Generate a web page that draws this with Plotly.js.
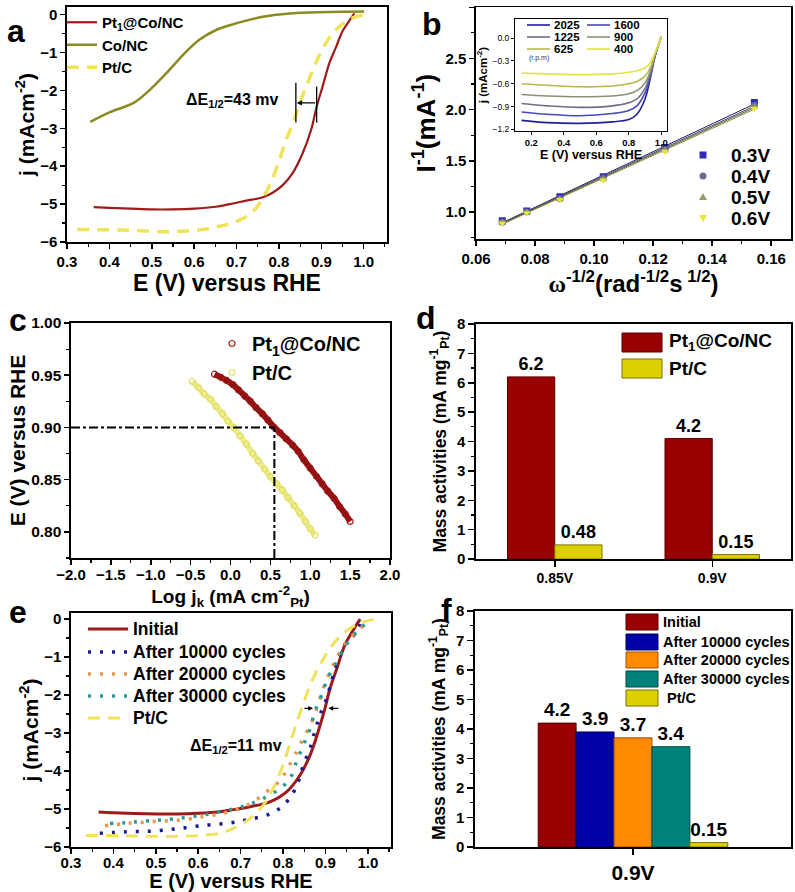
<!DOCTYPE html>
<html><head><meta charset="utf-8">
<script src="https://cdn.plot.ly/plotly-3.0.1.min.js"></script>
<style>html,body{margin:0;padding:0;background:#fff}#chart{width:795px;height:892px}</style>
</head><body><div id="chart"></div>
<script>
// ---------- Panel a : LSV ----------
const aPtNCx = [0.363,0.40,0.45,0.50,0.55,0.60,0.65,0.684,0.723,0.762,0.785,0.809,0.832,0.856,0.876,0.889,0.903,0.919,0.935,0.950,0.965,0.978];
const aPtNCy = [-5.08,-5.10,-5.12,-5.14,-5.14,-5.12,-5.07,-5.00,-4.91,-4.82,-4.70,-4.50,-4.19,-3.66,-3.04,-2.43,-1.90,-1.28,-0.85,-0.44,-0.18,0.03];
const aCoNCx = [0.355,0.40,0.457,0.496,0.535,0.574,0.613,0.653,0.684,0.723,0.762,0.80,0.840,0.919,1.001];
const aCoNCy = [-2.83,-2.58,-2.33,-1.98,-1.54,-1.06,-0.66,-0.40,-0.28,-0.16,-0.06,0.0,0.04,0.07,0.08];
const aPtCx = [0.324,0.40,0.457,0.535,0.613,0.653,0.684,0.715,0.746,0.766,0.782,0.801,0.817,0.836,0.852,0.872,0.892,0.911,0.935,0.962,0.99,1.013];
const aPtCy = [-5.67,-5.68,-5.69,-5.73,-5.68,-5.60,-5.52,-5.38,-5.11,-4.76,-4.41,-3.84,-3.31,-2.78,-2.25,-1.68,-1.15,-0.75,-0.40,-0.15,-0.03,0.0];

// ---------- Panel b : K-L plots ----------
const bOmega = [0.0689,0.0772,0.0884,0.1031,0.1240,0.1543];
const bPotentials = ['0.3V','0.4V','0.5V','0.6V'];
const b03V = [0.915,1.01,1.15,1.345,1.63,2.07];
const b04V = [0.90,1.00,1.13,1.33,1.61,2.04];
const b05V = [0.895,0.995,1.125,1.32,1.60,2.025];
const b06V = [0.89,0.99,1.12,1.31,1.59,2.01];
const bFitX = [0.0689,0.1543];
const bFit03 = [0.895,2.055];
const bFit04 = [0.89,2.035];
const bFit05 = [0.885,2.02];
const bFit06 = [0.88,2.005];
// inset: LSV at different rotation rates
const insetE = [0.14,0.3,0.5,0.7,0.8,0.85,0.9,0.93,0.96,1.0];
const rpmLabels = ['2025','1600','1225','900','625','400'];
const insetJ = {
  '2025':[-1.08,-1.11,-1.12,-1.10,-1.07,-1.00,-0.80,-0.55,-0.25,0.02],
  '1600':[-0.97,-1.00,-1.02,-0.99,-0.95,-0.89,-0.72,-0.52,-0.25,0.02],
  '1225':[-0.86,-0.89,-0.91,-0.89,-0.85,-0.80,-0.66,-0.49,-0.24,0.02],
  '900':[-0.74,-0.76,-0.77,-0.76,-0.73,-0.69,-0.59,-0.45,-0.23,0.02],
  '625':[-0.60,-0.62,-0.64,-0.63,-0.60,-0.57,-0.50,-0.40,-0.22,0.02],
  '400':[-0.46,-0.47,-0.48,-0.47,-0.45,-0.43,-0.39,-0.33,-0.20,0.02]
};

// ---------- Panel c : Tafel-like ----------
const cPtNCx = [-0.20,-0.12,-0.05,0.03,0.10,0.18,0.25,0.32,0.40,0.47,0.55,0.62,0.70,0.78,0.85,0.92,1.00,1.08,1.15,1.22,1.30,1.37,1.44,1.50];
const cPtNCy = [0.951,0.948,0.945,0.941,0.936,0.930,0.925,0.919,0.913,0.907,0.900,0.895,0.889,0.883,0.877,0.869,0.861,0.853,0.846,0.839,0.832,0.824,0.817,0.810];
const cPtCx = [-0.48,-0.40,-0.33,-0.25,-0.18,-0.10,-0.03,0.04,0.12,0.20,0.28,0.35,0.43,0.50,0.58,0.65,0.72,0.80,0.87,0.94,1.00,1.06];
const cPtCy = [0.944,0.938,0.932,0.927,0.920,0.913,0.906,0.900,0.892,0.884,0.875,0.868,0.860,0.853,0.846,0.840,0.833,0.825,0.818,0.810,0.803,0.797];
const cRefLogJ = 0.55, cRefE = 0.90;

// ---------- Panel d : mass activities ----------
const dCats = ['0.85V','0.9V'];
const dPtNC = [6.2,4.1];
const dPtNClabels = ['6.2','4.2'];
const dPtC = [0.48,0.15];
const dPtClabels = ['0.48','0.15'];

// ---------- Panel e : durability LSV ----------
const eNames = ['Initial','After 10000 cycles','After 20000 cycles','After 30000 cycles','Pt/C'];
const eInitX = [0.365,0.40,0.45,0.50,0.55,0.60,0.65,0.675,0.722,0.769,0.809,0.840,0.864,0.883,0.899,0.911,0.927,0.946,0.965,0.982];
const eInitY = [-5.08,-5.10,-5.12,-5.13,-5.13,-5.11,-5.07,-5.03,-4.94,-4.81,-4.54,-4.11,-3.58,-2.96,-2.35,-1.82,-1.30,-0.68,-0.30,0.0];
const e10kX = [0.368,0.431,0.494,0.557,0.620,0.667,0.699,0.730,0.762,0.789,0.817,0.836,0.848,0.864,0.875,0.887,0.903,0.915,0.927,0.946,0.974,0.985];
const e10kY = [-5.64,-5.60,-5.58,-5.51,-5.42,-5.38,-5.32,-5.25,-5.16,-5.01,-4.70,-4.28,-3.84,-3.40,-2.96,-2.53,-2.09,-1.61,-1.17,-0.68,-0.33,-0.05];
const e20kX = [0.380,0.431,0.494,0.557,0.612,0.659,0.699,0.730,0.762,0.793,0.809,0.828,0.848,0.868,0.883,0.895,0.911,0.930,0.950,0.982,1.005];
const e20kY = [-5.44,-5.38,-5.33,-5.29,-5.20,-5.11,-4.98,-4.81,-4.54,-4.25,-3.97,-3.58,-3.14,-2.70,-2.26,-1.82,-1.39,-0.95,-0.60,-0.25,-0.03];
const e30kX = [0.392,0.431,0.470,0.510,0.541,0.573,0.612,0.651,0.691,0.722,0.754,0.793,0.817,0.832,0.848,0.864,0.875,0.891,0.907,0.927,0.946,0.974,1.005];
const e30kY = [-5.38,-5.36,-5.32,-5.29,-5.26,-5.22,-5.16,-5.07,-4.98,-4.87,-4.72,-4.46,-4.19,-3.75,-3.32,-2.88,-2.44,-2.00,-1.52,-1.12,-0.73,-0.33,-0.03];
const ePtCX = [0.335,0.40,0.45,0.50,0.55,0.60,0.65,0.683,0.722,0.754,0.777,0.797,0.813,0.828,0.844,0.864,0.887,0.911,0.934,0.974,1.017];
const ePtCY = [-5.70,-5.70,-5.71,-5.72,-5.72,-5.70,-5.64,-5.51,-5.25,-4.89,-4.46,-3.93,-3.40,-2.88,-2.35,-1.74,-1.21,-0.77,-0.46,-0.14,0.0];

// ---------- Panel f : durability mass activity ----------
const fCat = ['0.9V'];
const fSeries = ['Initial','After 10000 cycles','After 20000 cycles','After 30000 cycles','Pt/C'];
const fValues = [4.2,3.9,3.7,3.4,0.15];
const fLabels = ['4.2','3.9','3.7','3.4','0.15'];

// ================= drawing =================
const W = 795, H = 892;
const F = 'Liberation Sans, Arial, sans-serif';
const px = v => v / W;
const py = v => 1 - v / H;

const RED = '#9e1b1b', OLIVE = '#8a8a20', YEL = '#f0e35a';
const BARRED = '#990000', BARYEL = '#ddd000', BARBLUE = '#0000a8', BARORANGE = '#ff8a00', BARTEAL = '#00817a';

function axis(o) {
  const base = {
    showline: true, linecolor: '#000', linewidth: 1.6, mirror: true,
    ticks: 'outside', ticklen: 5, tickwidth: 1.5, tickcolor: '#000',
    showgrid: false, zeroline: false,
    tickfont: {family: F, size: 15, weight: 'bold', color: '#000'},
    title: {font: {family: F, size: 20, weight: 'bold', color: '#000'}}
  };
  const r = Object.assign({}, base, o);
  if (o.title) r.title = {text: o.title.text, standoff: o.title.standoff, font: Object.assign({}, base.title.font, o.title.font || {})};
  return r;
}
const boldF = (s) => ({family: F, size: s, weight: 'bold', color: '#000'});
const mn = (d) => ({ticks: 'outside', dtick: d, ticklen: 3, tickwidth: 1.2, tickcolor: '#000'});

const traces = [];
// a
traces.push({x: aPtNCx, y: aPtNCy, xaxis: 'x', yaxis: 'y', mode: 'lines', name: 'Pt<sub>1</sub>@Co/NC', line: {color: RED, width: 2.2, shape: 'spline'}, legend: 'legend'});
traces.push({x: aCoNCx, y: aCoNCy, xaxis: 'x', yaxis: 'y', mode: 'lines', name: 'Co/NC', line: {color: OLIVE, width: 2.5, shape: 'spline'}, legend: 'legend'});
traces.push({x: aPtCx, y: aPtCy, xaxis: 'x', yaxis: 'y', mode: 'lines', name: 'Pt/C', line: {color: YEL, width: 3.5, dash: '12px,8px', shape: 'spline'}, legend: 'legend'});
// b
const bSets = [
  {y: b03V, fit: bFit03, c: '#2d2db5', s: 'square', lc: '#1a1a70'},
  {y: b04V, fit: bFit04, c: '#6c6c92', s: 'circle', lc: '#4a4a60'},
  {y: b05V, fit: bFit05, c: '#9a9a60', s: 'triangle-up', lc: '#5a5a40'},
  {y: b06V, fit: bFit06, c: '#e6e636', s: 'triangle-down', lc: '#8a8a30'}
];
bSets.forEach(b => {
  traces.push({x: bFitX, y: b.fit, xaxis: 'x2', yaxis: 'y2', mode: 'lines', line: {color: b.lc, width: 1}, showlegend: false, hoverinfo: 'skip'});
});
bSets.forEach((b, i) => {
  traces.push({x: bOmega, y: b.y, xaxis: 'x2', yaxis: 'y2', mode: 'markers', name: bPotentials[i], marker: {symbol: b.s, size: 7, color: b.c}, showlegend: false});
});
// inset
const insetColors = {'2025': '#1f1f9a', '1600': '#4848b8', '1225': '#6e6e88', '900': '#8f8f78', '625': '#b8b850', '400': '#e4e440'};
rpmLabels.forEach(r => {
  traces.push({x: insetE, y: insetJ[r], xaxis: 'x3', yaxis: 'y3', mode: 'lines', name: r, line: {color: insetColors[r], width: 1.6, shape: 'spline'}, showlegend: false});
});
// c
traces.push({x: cPtNCx, y: cPtNCy, xaxis: 'x4', yaxis: 'y4', mode: 'lines', line: {color: '#8e1010', width: 6, shape: 'spline'}, showlegend: false, hoverinfo: 'skip'});
traces.push({x: cPtCx, y: cPtCy, xaxis: 'x4', yaxis: 'y4', mode: 'lines', line: {color: '#ecec8c', width: 6, shape: 'spline'}, showlegend: false, hoverinfo: 'skip'});
traces.push({x: cPtNCx, y: cPtNCy, xaxis: 'x4', yaxis: 'y4', mode: 'markers', name: 'Pt<sub>1</sub>@Co/NC', marker: {symbol: 'circle-open', size: 6, color: '#a01818', line: {width: 1.2}}, legend: 'legend3'});
traces.push({x: cPtCx, y: cPtCy, xaxis: 'x4', yaxis: 'y4', mode: 'markers', name: 'Pt/C', marker: {symbol: 'circle-open', size: 6, color: '#dede60', line: {width: 1.2}}, legend: 'legend3'});
// d
traces.push({type: 'bar', x: dCats, y: dPtNC, text: dPtNClabels, textposition: 'outside', textfont: boldF(18), cliponaxis: false, xaxis: 'x5', yaxis: 'y5', marker: {color: BARRED, line: {color: '#5a0000', width: 1}}, name: 'Pt<sub>1</sub>@Co/NC', showlegend: false, offsetgroup: 'd1'});
traces.push({type: 'bar', x: dCats, y: dPtC, text: dPtClabels, textposition: 'outside', textfont: boldF(18), cliponaxis: false, xaxis: 'x5', yaxis: 'y5', marker: {color: BARYEL, line: {color: '#7a7000', width: 1}}, name: 'Pt/C', showlegend: false, offsetgroup: 'd2'});
// e
const eStyles = [
  {color: RED, width: 3, dash: 'solid'},
  {color: '#1b1b8f', width: 3.5, dash: '3px,9px'},
  {color: '#e8964a', width: 3.5, dash: '3px,9px'},
  {color: '#2a9a90', width: 3.5, dash: '3px,9px'},
  {color: YEL, width: 3, dash: '12px,8px'}
];
const eData = [[eInitX, eInitY], [e10kX, e10kY], [e20kX, e20kY], [e30kX, e30kY], [ePtCX, ePtCY]];
eData.forEach((d, i) => {
  traces.push({x: d[0], y: d[1], xaxis: 'x6', yaxis: 'y6', mode: 'lines', name: eNames[i], line: Object.assign({shape: 'spline'}, eStyles[i]), showlegend: false});
});
// f
const fColors = [BARRED, BARBLUE, BARORANGE, BARTEAL, BARYEL];
const fLines = ['#5a0000', '#00005a', '#a05000', '#004a45', '#7a7000'];
fSeries.forEach((s, i) => {
  traces.push({type: 'bar', x: fCat, y: [fValues[i]], text: [fLabels[i]], textposition: 'outside', textfont: boldF(19), cliponaxis: false, xaxis: 'x7', yaxis: 'y7', marker: {color: fColors[i], line: {color: fLines[i], width: 1}}, name: s, showlegend: false, offsetgroup: 'f' + i});
});

const legendBase = {bgcolor: 'rgba(0,0,0,0)', borderwidth: 0, xanchor: 'left', yanchor: 'top', tracegroupgap: 0};

const shapes = [
  // c dash-dot reference lines
  {type: 'line', xref: 'x4', yref: 'y4', x0: -2, x1: cRefLogJ, y0: cRefE, y1: cRefE, line: {color: '#000', width: 2, dash: 'dashdot'}},
  {type: 'line', xref: 'x4', yref: 'y4', x0: cRefLogJ, x1: cRefLogJ, y0: 0.775, y1: cRefE, line: {color: '#000', width: 2, dash: 'dashdot'}},
  // a  ΔE markers
  {type: 'line', xref: 'x', yref: 'y', x0: 0.840, x1: 0.840, y0: -1.8, y1: -2.85, line: {color: '#000', width: 1.3}},
  {type: 'line', xref: 'x', yref: 'y', x0: 0.889, x1: 0.889, y0: -1.9, y1: -2.85, line: {color: '#000', width: 1.3}},
];
// b legend markers
const bRows = [155, 176, 197, 218];
const pm = (x, y) => ({xref: 'paper', yref: 'paper', xsizemode: 'pixel', ysizemode: 'pixel', xanchor: px(x), yanchor: py(y)});
shapes.push(Object.assign(pm(703, bRows[0]), {type: 'rect', x0: -3.5, x1: 3.5, y0: -3.5, y1: 3.5, fillcolor: bSets[0].c, line: {width: 0}}));
shapes.push(Object.assign(pm(703, bRows[1]), {type: 'circle', x0: -3.5, x1: 3.5, y0: -3.5, y1: 3.5, fillcolor: bSets[1].c, line: {width: 0}}));
shapes.push(Object.assign(pm(703, bRows[2]), {type: 'path', path: 'M-4,-3 L4,-3 L0,4 Z', fillcolor: bSets[2].c, line: {width: 0}}));
shapes.push(Object.assign(pm(703, bRows[3]), {type: 'path', path: 'M-4,3 L4,3 L0,-4 Z', fillcolor: bSets[3].c, line: {width: 0}}));
// e legend lines
const eRows = [629, 652, 674, 696, 718];
eRows.forEach((r, i) => {
  shapes.push({type: 'line', xref: 'paper', yref: 'paper', x0: px(88), x1: px(128), y0: py(r), y1: py(r), line: {color: eStyles[i].color, width: eStyles[i].width, dash: eStyles[i].dash}});
});
// d legend boxes
shapes.push({type: 'rect', xref: 'paper', yref: 'paper', x0: px(622), x1: px(662), y0: py(352), y1: py(333), fillcolor: BARRED, line: {color: '#5a0000', width: 1}});
shapes.push({type: 'rect', xref: 'paper', yref: 'paper', x0: px(622), x1: px(662), y0: py(378), y1: py(359), fillcolor: BARYEL, line: {color: '#7a7000', width: 1}});
// f legend boxes
const fRows = [622, 642, 660, 679, 698];
fRows.forEach((r, i) => {
  shapes.push({type: 'rect', xref: 'paper', yref: 'paper', x0: px(626), x1: px(658), y0: py(r + 8), y1: py(r - 8), fillcolor: fColors[i], line: {color: fLines[i], width: 1}});
});
// inset legend lines
const insetLeg = [
  {r: '2025', x: 527, y: 25}, {r: '1600', x: 587, y: 25},
  {r: '1225', x: 527, y: 37}, {r: '900', x: 587, y: 37},
  {r: '625', x: 527, y: 49}, {r: '400', x: 587, y: 49}
];
insetLeg.forEach(l => {
  shapes.push({type: 'line', xref: 'paper', yref: 'paper', x0: px(l.x), x1: px(l.x + 23), y0: py(l.y), y1: py(l.y), line: {color: insetColors[l.r], width: 1.6}});
});

function txt(t, x, y, size, xa, extra) {
  return Object.assign({text: t, x: px(x), y: py(y), xref: 'paper', yref: 'paper', xanchor: xa || 'center', yanchor: 'middle', showarrow: false, font: boldF(size)}, extra || {});
}
const annotations = [
  txt('a', 16, 31, 32), txt('b', 432, 24, 32), txt('c', 18, 320, 32),
  txt('d', 426, 318, 32), txt('e', 18, 612, 32), txt('f', 446, 610, 32),
  txt('ΔE<sub>1/2</sub>=43 mv', 232, 101, 16),
  {text: '', x: 0.842, y: -2.33, ax: 0.889, ay: -2.33, axref: 'x', ayref: 'y', xref: 'x', yref: 'y', showarrow: true, arrowhead: 2, arrowsize: 0.8, arrowwidth: 1.3, arrowcolor: '#000'},
  txt('ΔE<sub>1/2</sub>=11 mv', 236, 746, 16),
  {text: '', x: 0.871, y: -2.35, ax: 0.847, ay: -2.35, axref: 'x6', ayref: 'y6', xref: 'x6', yref: 'y6', showarrow: true, arrowhead: 2, arrowsize: 0.8, arrowwidth: 1.2, arrowcolor: '#000'},
  {text: '', x: 0.907, y: -2.35, ax: 0.934, ay: -2.35, axref: 'x6', ayref: 'y6', xref: 'x6', yref: 'y6', showarrow: true, arrowhead: 2, arrowsize: 0.8, arrowwidth: 1.2, arrowcolor: '#000'},
  txt('(r.p.m)', 527, 58, 7, 'left', {font: {family: F, size: 7, color: '#333'}}),
  // d legend text
  txt('Pt<sub>1</sub>@Co/NC', 667, 342, 19, 'left'),
  txt('Pt/C', 667, 368, 19, 'left'),
];
bPotentials.forEach((p, i) => annotations.push(txt(p, 729, bRows[i], 19, 'left')));
eNames.forEach((n, i) => annotations.push(txt(n, 131, eRows[i], 17.5, 'left')));
fSeries.forEach((s, i) => {
  annotations.push(txt((s === 'Pt/C' ? ' ' : '') + s, 661, fRows[i], 14.5, 'left'));
});
insetLeg.forEach(l => {
  annotations.push(txt(l.r, l.x + 25, l.y, 11.5, 'left'));
});

const layout = {
  width: W, height: H, margin: {l: 0, r: 0, t: 0, b: 0},
  paper_bgcolor: '#fff', plot_bgcolor: 'rgba(0,0,0,0)',
  font: {family: F, color: '#000'},
  barmode: 'group', bargap: 0.4, bargroupgap: 0,
  // a
  xaxis: axis({domain: [px(67), px(387)], range: [0.3, 1.055], dtick: 0.1, tickformat: '.1f', anchor: 'y', minor: mn(0.05), title: {text: 'E (V) versus RHE', standoff: 4, font: {size: 23}}}),
  yaxis: axis({domain: [py(242), py(7)], range: [-6, 0.2], dtick: 1, anchor: 'x', minor: mn(0.5), title: {text: 'j (mAcm<sup>-2</sup>)', standoff: 0, font: {size: 21}}}),
  // b
  xaxis2: axis({domain: [px(476), px(791)], range: [0.06, 0.1667], dtick: 0.02, tickformat: '.2f', anchor: 'y2', minor: mn(0.01), title: {text: '<span style="font-family:Liberation Serif">ω</span><sup>-1/2</sup>(rad<sup>-1/2</sup>s<sup> 1/2</sup>)', standoff: 4, font: {size: 24}}}),
  yaxis2: axis({domain: [py(239), py(7.3)], range: [0.736, 3.0], dtick: 0.5, tickformat: '.1f', anchor: 'x2', minor: mn(0.25), title: {text: 'I<sup>-1</sup>(mA<sup>-1</sup>)', standoff: 2, font: {size: 26}}}),
  // inset
  xaxis3: axis({domain: [px(515), px(667)], range: [0.10, 1.035], dtick: 0.2, tickformat: '.1f', anchor: 'y3', linewidth: 1, ticklen: 3, tickwidth: 1, tickfont: boldF(9.5), title: {text: 'E (V) versus RHE', standoff: 0, font: {size: 12.5}}}),
  yaxis3: axis({domain: [py(131), py(19)], range: [-1.22, 0.25], dtick: 0.3, tickformat: '.1f', anchor: 'x3', linewidth: 1, ticklen: 3, tickwidth: 1, tickfont: {family: F, size: 8.5, color: '#000'}, title: {text: 'j (mAcm<sup>-2</sup>)', standoff: 2, font: {size: 11.5}}}),
  // c
  xaxis4: axis({domain: [px(71), px(390)], range: [-2, 2], dtick: 0.5, tickformat: '.1f', anchor: 'y4', minor: mn(0.25), ticklabelstandoff: -3, title: {text: 'Log j<sub>k</sub> (mA cm<sup>-2</sup><sub>Pt</sub>)', standoff: 0, font: {size: 19}}}),
  yaxis4: axis({domain: [py(558), py(323)], range: [0.775, 1.0], dtick: 0.05, tickformat: '.2f', anchor: 'x4', tickfont: boldF(15.5), minor: mn(0.025), title: {text: 'E (V) versus RHE', standoff: 0, font: {size: 21}}}),
  // d
  xaxis5: axis({domain: [px(476), px(791)], range: [-0.5, 1.5], type: 'category', anchor: 'y5', tickfont: boldF(14), ticklen: 6}),
  yaxis5: axis({domain: [py(559), py(324)], range: [0, 8], dtick: 1, anchor: 'x5', ticklen: 6, minor: mn(0.5), title: {text: 'Mass activities (mA mg<sup>-1</sup><sub>Pt</sub>)', standoff: 6, font: {size: 17.5}}}),
  // e
  xaxis6: axis({domain: [px(71), px(391)], range: [0.3, 1.0547], dtick: 0.1, tickformat: '.1f', anchor: 'y6', minor: mn(0.05), ticklabelstandoff: -4, title: {text: 'E (V) versus RHE', standoff: 0, font: {size: 20}}}),
  yaxis6: axis({domain: [py(847), py(613)], range: [-6, 0.16], dtick: 1, anchor: 'x6', minor: mn(0.5), title: {text: 'j (mAcm<sup>-2</sup>)', standoff: 0, font: {size: 21}}}),
  // f
  xaxis7: axis({domain: [px(475), px(791)], range: [-0.5, 0.5], type: 'category', anchor: 'y7', tickfont: boldF(21), ticklen: 6}),
  yaxis7: axis({domain: [py(847), py(611)], range: [0, 8], dtick: 1, anchor: 'x7', ticklen: 6, minor: mn(0.5), title: {text: 'Mass activities (mA mg<sup>-1</sup><sub>Pt</sub>)', standoff: 6, font: {size: 17.5}}}),
  legend: Object.assign({}, legendBase, {x: px(62), y: py(6), font: boldF(15)}),
  legend3: Object.assign({}, legendBase, {x: px(212), y: py(324), font: boldF(20)}),
  shapes: shapes,
  annotations: annotations,
  showlegend: true
};

Plotly.newPlot('chart', traces, layout, {staticPlot: true, displayModeBar: false});
</script>
</body></html>
